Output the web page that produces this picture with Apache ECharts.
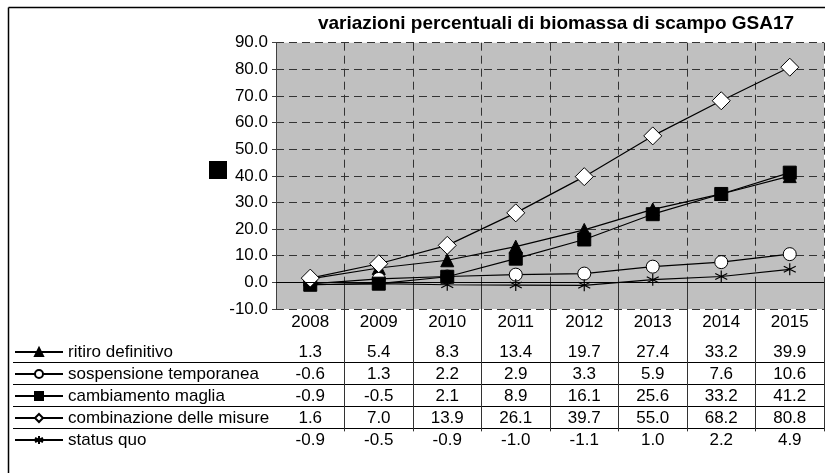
<!DOCTYPE html>
<html>
<head>
<meta charset="utf-8">
<script src="https://cdn.jsdelivr.net/npm/echarts@6/dist/echarts.min.js"></script>
<style>
html,body{margin:0;padding:0;background:#fff;}
#chart{width:825px;height:473px;}
</style>
</head>
<body>
<div id="chart"></div>
<script>
var years = ['2008','2009','2010','2011','2012','2013','2014','2015'];
var seriesNames = ['ritiro definitivo','sospensione temporanea','cambiamento maglia','combinazione delle misure','status quo'];
var ritiro = [1.3, 5.4, 8.3, 13.4, 19.7, 27.4, 33.2, 39.9];
var sospensione = [-0.6, 1.3, 2.2, 2.9, 3.3, 5.9, 7.6, 10.6];
var cambiamento = [-0.9, -0.5, 2.1, 8.9, 16.1, 25.6, 33.2, 41.2];
var combinazione = [1.6, 7.0, 13.9, 26.1, 39.7, 55.0, 68.2, 80.8];
var statusQuo = [-0.9, -0.5, -0.9, -1.0, -1.1, 1.0, 2.2, 4.9];
var yTicks = {min: -10, max: 90, interval: 10};
var titleText = 'variazioni percentuali di biomassa di scampo GSA17';

var allRows = [ritiro, sospensione, cambiamento, combinazione, statusQuo];
var FONT = 'Liberation Sans, Arial, sans-serif';
var FS = 17;
var gridLeft = 276, gridTop = 42.7, gridBottomY = 309, W = 825, H = 473;
var rowCenter0 = 352, rowStep = 22, yearCenter = 322;

var asterisk = 'path://M5,0L5,10M0.7,2.5L9.3,7.5M0.7,7.5L9.3,2.5';

var symbols = [
  {symbol:'triangle', size:13, itemStyle:{color:'#000', borderColor:'#000', borderWidth:1}},
  {symbol:'circle', size:13, itemStyle:{color:'#fff', borderColor:'#000', borderWidth:1}},
  {symbol:'rect', size:13, itemStyle:{color:'#000', borderColor:'#000', borderWidth:1}},
  {symbol:'diamond', size:18, itemStyle:{color:'#fff', borderColor:'#000', borderWidth:1}},
  {symbol:asterisk, size:12, itemStyle:{color:'none', borderColor:'#000', borderWidth:1.2}}
];

var xAxes = [{
  type:'category', data: years, gridIndex:0, position:'bottom', boundaryGap:true,
  axisLine:{show:false},
  axisTick:{show:true, length:149, interval:function(i){return i > 0;}, lineStyle:{color:'#333', width:1}},
  axisLabel:{show:true, margin:5, color:'#000', fontSize:FS, fontFamily:FONT, interval:0},
  splitLine:{show:true, lineStyle:{color:'#333', type:[8,5], width:1}}
}];
allRows.forEach(function(row, k){
  xAxes.push({
    type:'category', data: years, gridIndex:0, position:'bottom',
    offset: (rowCenter0 + rowStep*k) - yearCenter,
    axisLine:{show:false}, axisTick:{show:false}, splitLine:{show:false},
    axisLabel:{show:true, margin:5, color:'#000', fontSize:FS, fontFamily:FONT, interval:0,
      formatter:(function(r){ return function(v, i){ return r[i].toFixed(1); }; })(row)}
  });
});

var series = allRows.map(function(row, k){
  return {
    name: seriesNames[k], type:'line', data: row, xAxisIndex:0, yAxisIndex:0,
    symbol: symbols[k].symbol, symbolSize: symbols[k].size,
    itemStyle: symbols[k].itemStyle,
    lineStyle:{color:'#000', width:1.2},
    z: 3 + (k===3?1:0)
  };
});
series[0].markLine = {silent:true, symbol:'none', label:{show:false},
  lineStyle:{color:'#000', type:'solid', width:1}, data:[{yAxis:0}]};

var graphics = [
  {type:'line', shape:{x1:8.5, y1:7.5, x2:W, y2:7.5}, style:{stroke:'#000', lineWidth:1.5}},
  {type:'line', shape:{x1:8.5, y1:7.5, x2:8.5, y2:H}, style:{stroke:'#000', lineWidth:1.5}},
  {type:'rect', shape:{x:209, y:161, width:18, height:18}, style:{fill:'#000'}}
];
for (var k = 0; k < 4; k++) {
  var yy = Math.round(rowCenter0 + rowStep*k + rowStep/2) - 0.5;
  graphics.push({type:'line', shape:{x1:13, y1:yy, x2:W, y2:yy}, style:{stroke:'#000', lineWidth:1}});
}

var chart = echarts.init(document.getElementById('chart'), null, {renderer:'canvas'});
chart.setOption({
  animation:false,
  backgroundColor:'#fff',
  title:{text:titleText, left:556, top:14, textAlign:'center', padding:0,
    textStyle:{fontSize:19, fontWeight:'bold', color:'#000', fontFamily:FONT}},
  grid:{left:gridLeft, top:gridTop, width: W - 1 - gridLeft, height: gridBottomY - gridTop,
    show:true, backgroundColor:'#c0c0c0', borderWidth:0},
  legend:{orient:'vertical', left:14, top: rowCenter0 - 9, padding:0,
    itemWidth:48, itemHeight:10, itemGap: rowStep - 18,
    textStyle:{fontSize:FS, color:'#000', fontFamily:FONT, lineHeight:18},
    data: seriesNames},
  xAxis: xAxes,
  yAxis:{type:'value', min:yTicks.min, max:yTicks.max, interval:yTicks.interval,
    axisLine:{show:true, lineStyle:{color:'#404040', width:1}},
    axisTick:{show:true, length:4, lineStyle:{color:'#404040'}},
    axisLabel:{margin:8, color:'#000', fontSize:FS, fontFamily:FONT,
      formatter:function(v){return v.toFixed(1);}},
    splitLine:{show:true, lineStyle:{color:'#333', type:[8,5], width:1}}},
  graphic: graphics,
  series: series
});
</script>
</body>
</html>
